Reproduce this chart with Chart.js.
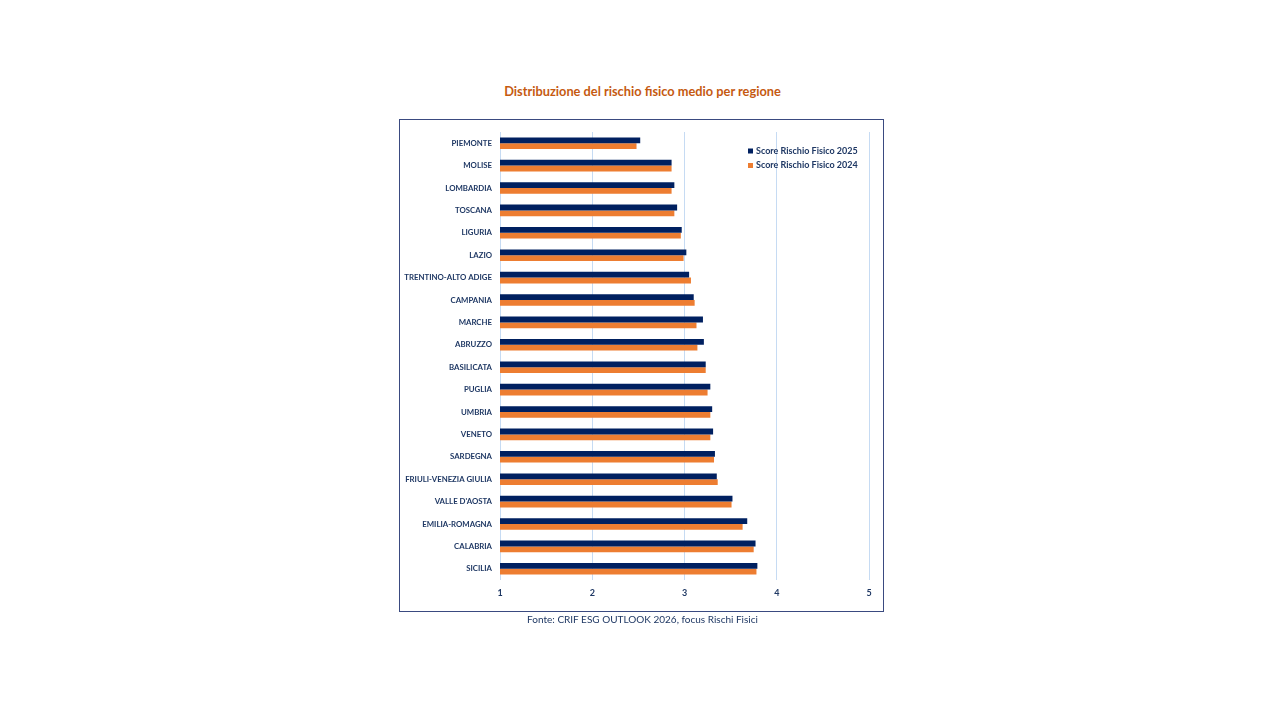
<!DOCTYPE html>
<html>
<head>
<meta charset="utf-8">
<script src="https://cdn.jsdelivr.net/npm/chart.js@4.4.1/dist/chart.umd.min.js"></script>
<style>
  body { margin: 0; background: #fff; }
  #wrap { position: relative; width: 1280px; height: 720px; overflow: hidden; }
  #title { position: absolute; top: 83px; left: 0; width: 1285px; text-align: center;
    font: bold 12.8px Lato, sans-serif; color: #c55a11; }
  #box { position: absolute; left: 399px; top: 119px; width: 483px; height: 491px;
    border: 1.5px solid #3a4a80; }
  #source { position: absolute; top: 613px; left: 0; width: 1285px; text-align: center;
    font: 10px Lato, sans-serif; color: #1f3864; }
  canvas { position: absolute; left: 0; top: 0; }
</style>
</head>
<body>
<div id="wrap">
  <div id="title">Distribuzione del rischio fisico medio per regione</div>
  <div id="box"></div>
  <canvas id="myChart" width="1280" height="720"></canvas>
  <div id="source">Fonte: CRIF ESG OUTLOOK 2026, focus Rischi Fisici</div>
</div>
<script>
// regioni, dal rischio più basso al più alto
const regions = ['PIEMONTE', 'MOLISE', 'LOMBARDIA', 'TOSCANA', 'LIGURIA', 'LAZIO',
  'TRENTINO-ALTO ADIGE', 'CAMPANIA', 'MARCHE', 'ABRUZZO', 'BASILICATA', 'PUGLIA',
  'UMBRIA', 'VENETO', 'SARDEGNA', 'FRIULI-VENEZIA GIULIA', "VALLE D'AOSTA",
  'EMILIA-ROMAGNA', 'CALABRIA', 'SICILIA'];

const score2025 = [2.52, 2.86, 2.89, 2.92, 2.97, 3.02, 3.05, 3.10, 3.20, 3.21,
  3.23, 3.28, 3.30, 3.31, 3.33, 3.35, 3.52, 3.68, 3.77, 3.79];
const score2024 = [2.48, 2.86, 2.86, 2.89, 2.96, 2.99, 3.07, 3.11, 3.13, 3.14,
  3.23, 3.25, 3.28, 3.28, 3.32, 3.36, 3.51, 3.63, 3.75, 3.78];

const xTicks = [1, 2, 3, 4, 5];

const navy = '#002060';
const orange = '#ed7d31';
const labelColor = '#1f3864';

// legenda dentro l'area del grafico, in alto a destra
const insideLegend = {
  id: 'insideLegend',
  afterDraw(chart) {
    const ctx = chart.ctx;
    ctx.save();
    ctx.font = 'bold 9px Lato, sans-serif';
    ctx.textBaseline = 'middle';
    chart.data.datasets.forEach((ds, i) => {
      const y = 151 + i * 14.5;
      ctx.fillStyle = ds.backgroundColor;
      ctx.fillRect(748, y - 2.5, 5, 5);
      ctx.fillStyle = labelColor;
      ctx.fillText(ds.label, 756, y);
    });
    ctx.restore();
  }
};

const ctx = document.getElementById('myChart').getContext('2d');
const chart = new Chart(ctx, {
  type: 'bar',
  data: {
    labels: regions,
    datasets: [{
      label: 'Score Rischio Fisico 2025',
      data: score2025,
      backgroundColor: navy,
      barPercentage: 1,
      categoryPercentage: 0.52
    }, {
      label: 'Score Rischio Fisico 2024',
      data: score2024,
      backgroundColor: orange,
      barPercentage: 1,
      categoryPercentage: 0.52
    }]
  },
  options: {
    indexAxis: 'y',
    responsive: false,
    animation: false,
    layout: { padding: { top: 132, right: 411, bottom: 0, left: 0 } },
    plugins: {
      legend: { display: false },
      tooltip: { enabled: false }
    },
    scales: {
      x: {
        min: 1,
        max: 5,
        afterBuildTicks(scale) { scale.ticks = xTicks.map(v => ({ value: v })); },
        afterFit(scale) { scale.height = 140; },
        border: { display: false },
        grid: { color: '#c6dbf3', lineWidth: 1, drawTicks: false },
        ticks: {
          padding: 8,
          color: labelColor,
          font: { family: 'Lato', weight: 'bold', size: 9 }
        }
      },
      y: {
        afterFit(scale) { scale.width = 500; },
        border: { display: false },
        grid: { display: false },
        ticks: {
          padding: 0,
          autoSkip: false,
          color: labelColor,
          font: { family: 'Lato', weight: 'bold', size: 7.8 }
        }
      }
    }
  },
  plugins: [insideLegend]
});
</script>
</body>
</html>
